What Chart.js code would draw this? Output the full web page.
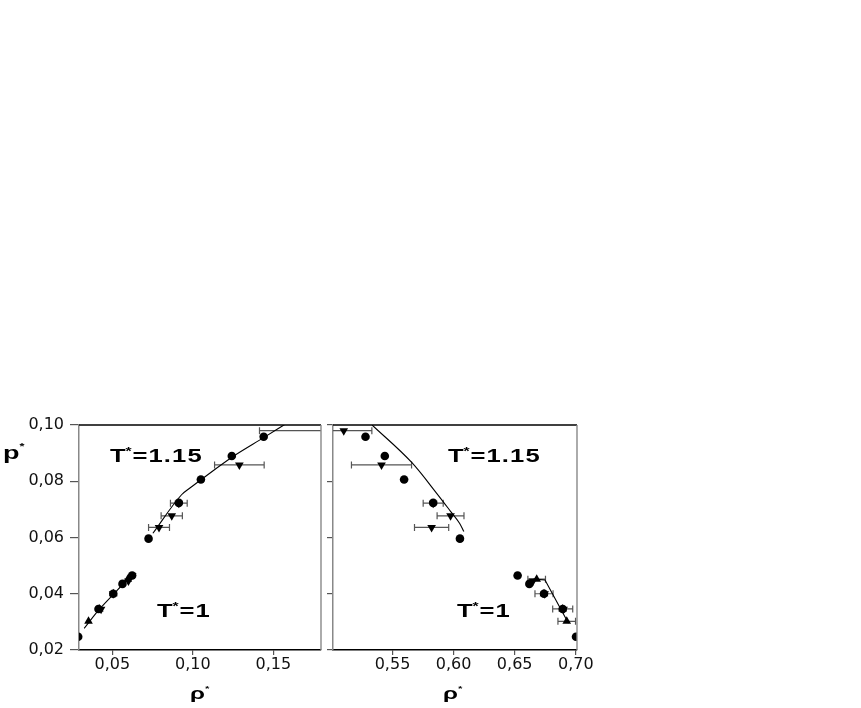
<!DOCTYPE html>
<html>
<head>
<meta charset="utf-8">
<script src="https://cdn.jsdelivr.net/npm/chart.js@4.4.0/dist/chart.umd.min.js"></script>
<style>
html, body { margin: 0; padding: 0; background: #fff; }
canvas { position: absolute; left: 0; top: 0; }
</style>
</head>
<body>
<canvas id="leftChart" width="861" height="708"></canvas>
<canvas id="rightChart" width="861" height="708"></canvas>
<script>
// axis ticks
var yTicks = [0.02, 0.04, 0.06, 0.08, 0.10];
var xTicksVap = [0.05, 0.10, 0.15];
var xTicksLiq = [0.55, 0.60, 0.65, 0.70];

// T*=1.15, circles (pressure, vapour density, liquid density)
var p115c = [0.0596, 0.0723, 0.0806, 0.0890, 0.0958];
var vap115c = [0.0725, 0.0913, 0.1050, 0.1242, 0.1440];
var liq115c = [0.6052, 0.5833, 0.5595, 0.5437, 0.5279];

// T*=1.15, down triangles with error bars
var p115t = [0.0636, 0.0677, 0.0722, 0.0858, 0.0980];
var vap115t = [0.0790, 0.0869, 0.0913, 0.1289, 0.1900];
var vap115e = [0.0065, 0.0066, 0.0052, 0.0154, 0.0486];
var liq115t = [0.5820, 0.5975, 0.5833, 0.5410, 0.5101];
var liq115e = [0.0140, 0.0110, 0.0082, 0.0246, 0.0230];

// T*=1, circles
var p1c = [0.0247, 0.0346, 0.0400, 0.0435, 0.0465];
var vap1c = [0.0288, 0.0414, 0.0506, 0.0563, 0.0623];
var liq1c = [0.7002, 0.6893, 0.6740, 0.6620, 0.6524];

// T*=1, up triangles (liquid side with error bars)
var p1t = [0.0302, 0.0346, 0.0400, 0.0452];
var vap1t = [0.0352, 0.0419, 0.0506, 0.0596];
var liq1t = [0.6926, 0.6893, 0.6740, 0.6680];
var liq1e = [0.0072, 0.0082, 0.0074, 0.0072];

// T*=1, down triangles
var p1d = [0.0345, 0.0400, 0.0445];
var vap1d = [0.0430, 0.0505, 0.0600];
var liq1d = [0.6900, 0.6745, 0.6650];

// fitted curves
var fitVap1x = [0.0325, 0.0420, 0.0510, 0.0590, 0.0648];
var fitVap1y = [0.0277, 0.0345, 0.0400, 0.0447, 0.0473];
var fitVap115x = [0.0752, 0.0930, 0.0980, 0.1080, 0.1250, 0.1440, 0.1580];
var fitVap115y = [0.0615, 0.0752, 0.0775, 0.0818, 0.0888, 0.0955, 0.1005];
var fitLiq115x = [0.5333, 0.5661, 0.5860, 0.5975, 0.6050, 0.6084];
var fitLiq115y = [0.1000, 0.0865, 0.0758, 0.0693, 0.0650, 0.0621];
var fitLiq1x = [0.6653, 0.6748, 0.6940];
var fitLiq1y = [0.0452, 0.0449, 0.0295];

Chart.defaults.font.family = '"DejaVu Sans", sans-serif';
Chart.defaults.font.size = 16;
Chart.defaults.color = '#111';

function pts(xs, ys) {
  return xs.map(function(x, i) { return {x: x, y: ys[i]}; });
}

function circles(data) {
  return {data: data, pointStyle: 'circle', pointRadius: 4.3, backgroundColor: '#000', borderColor: '#000', borderWidth: 0};
}
function triDown(data, err) {
  return {data: data, xErr: err, pointStyle: 'triangle', rotation: 180, pointRadius: 5, backgroundColor: '#000', borderColor: '#000', borderWidth: 0};
}
function triUp(data, err) {
  return {data: data, xErr: err, pointStyle: 'triangle', pointRadius: 5, backgroundColor: '#000', borderColor: '#000', borderWidth: 0};
}
function curve(data, smooth) {
  return {data: data, showLine: true, pointRadius: 0, borderColor: '#000', borderWidth: 1.1,
    cubicInterpolationMode: smooth ? 'monotone' : 'default', tension: 0, fill: false};
}

// horizontal error bars, drawn under the markers
var errorBars = {
  id: 'errorBars',
  beforeDatasetsDraw: function(chart) {
    var ctx = chart.ctx, a = chart.chartArea;
    var xs = chart.scales.x, ys = chart.scales.y;
    ctx.save();
    ctx.beginPath();
    ctx.rect(a.left, a.top, a.right - a.left, a.bottom - a.top);
    ctx.clip();
    ctx.strokeStyle = '#555';
    ctx.lineWidth = 1.2;
    chart.data.datasets.forEach(function(ds) {
      if (!ds.xErr) return;
      ds.data.forEach(function(pt, i) {
        var e = ds.xErr[i];
        var x1 = xs.getPixelForValue(pt.x - e);
        var x2 = xs.getPixelForValue(pt.x + e);
        var y = ys.getPixelForValue(pt.y);
        ctx.beginPath();
        ctx.moveTo(x1, y); ctx.lineTo(x2, y);
        ctx.moveTo(x1, y - 3.5); ctx.lineTo(x1, y + 3.5);
        ctx.moveTo(x2, y - 3.5); ctx.lineTo(x2, y + 3.5);
        ctx.stroke();
      });
    });
    ctx.restore();
  }
};

// top and right edges of each panel
var frame = {
  id: 'frame',
  afterDraw: function(chart) {
    var ctx = chart.ctx, a = chart.chartArea;
    ctx.save();
    ctx.lineWidth = 1.4;
    ctx.strokeStyle = '#000';
    ctx.beginPath(); ctx.moveTo(a.left, a.top); ctx.lineTo(a.right, a.top); ctx.stroke();
    ctx.strokeStyle = '#888';
    ctx.beginPath(); ctx.moveTo(a.right, a.top); ctx.lineTo(a.right, a.bottom); ctx.stroke();
    ctx.restore();
  }
};

// stretched bold text with a small superscript star
function starText(ctx, x, y, base, rest, size, starSize, starRise, sx) {
  ctx.save();
  ctx.translate(x, y);
  ctx.scale(sx, 1);
  ctx.fillStyle = '#000';
  ctx.textBaseline = 'alphabetic';
  ctx.font = 'bold ' + size + 'px "Liberation Sans"';
  ctx.fillText(base, 0, 0);
  var w = ctx.measureText(base).width;
  ctx.font = 'bold ' + starSize + 'px "Liberation Sans"';
  ctx.fillText('*', w, -starRise);
  var w2 = ctx.measureText('*').width;
  if (rest) {
    ctx.font = 'bold ' + size + 'px "Liberation Sans"';
    ctx.letterSpacing = '0.8px';
    ctx.fillText(rest, w + w2 + 0.5, 0);
  }
  ctx.restore();
}

function labelsPlugin(items) {
  return {
    id: 'labels',
    afterDraw: function(chart) {
      items.forEach(function(it) {
        starText(chart.ctx, it[0], it[1], it[2], it[3], it[4], it[5], it[6], 1.42);
      });
    }
  };
}

function makeChart(id, datasets, xmin, xmax, xTicks, padL, padR, yWidth, yLabels, items) {
  return new Chart(document.getElementById(id), {
    type: 'scatter',
    data: {datasets: datasets},
    plugins: [errorBars, frame, labelsPlugin(items)],
    options: {
      responsive: false,
      animation: false,
      layout: {padding: {left: padL, right: padR, top: 425, bottom: 0}},
      plugins: {legend: {display: false}, tooltip: {enabled: false}},
      scales: {
        x: {
          type: 'linear', min: xmin, max: xmax,
          afterBuildTicks: function(s) { s.ticks = xTicks.map(function(v) { return {value: v}; }); },
          afterFit: function(s) { s.height = 58; },
          border: {display: true, color: '#000', width: 1.4},
          grid: {drawOnChartArea: false, drawTicks: true, tickLength: 5, color: '#555', lineWidth: 1.2},
          ticks: {padding: 0, maxRotation: 0, callback: function(v) { return v.toFixed(2).replace('.', ','); }}
        },
        y: {
          type: 'linear', min: 0.02, max: 0.10,
          afterBuildTicks: function(s) { s.ticks = yTicks.map(function(v) { return {value: v}; }); },
          afterFit: function(s) { s.width = yWidth; },
          border: {display: true, color: '#888', width: 1.5},
          grid: {drawOnChartArea: false, drawTicks: true, tickLength: yLabels ? 9 : 6, color: '#555', lineWidth: 1.2},
          ticks: {display: yLabels, padding: 6, callback: function(v) { return v.toFixed(2).replace('.', ','); }}
        }
      }
    }
  });
}

makeChart('leftChart', [
  circles(pts(vap115c, p115c)),
  triDown(pts(vap115t, p115t), vap115e),
  circles(pts(vap1c, p1c)),
  triUp(pts(vap1t, p1t)),
  triDown(pts(vap1d, p1d)),
  curve(pts(fitVap1x, fitVap1y), true),
  curve(pts(fitVap115x, fitVap115y), true)
], 0.0293, 0.1796, xTicksVap, 0, 540, 79, true, [
  [110, 462, 'T', '=1.15', 18, 11, 7, 0],
  [157, 617, 'T', '=1', 18, 11, 7, 0],
  [3, 459, 'p', '', 19, 9, 10, 0],
  [190, 699, '\u03c1', '', 17, 8, 8, 0]
]);

makeChart('rightChart', [
  circles(pts(liq115c, p115c)),
  triDown(pts(liq115t, p115t), liq115e),
  circles(pts(liq1c, p1c)),
  triUp(pts(liq1t, p1t), liq1e),
  triDown(pts(liq1d, p1d)),
  curve(pts(fitLiq115x, fitLiq115y), true),
  curve(pts(fitLiq1x, fitLiq1y), false)
], 0.5013, 0.7010, xTicksLiq, 323, 284, 10, false, [
  [448, 462, 'T', '=1.15', 18, 11, 7, 0],
  [457, 617, 'T', '=1', 18, 11, 7, 0],
  [443, 699, '\u03c1', '', 17, 8, 8, 0]
]);
</script>
</body>
</html>
